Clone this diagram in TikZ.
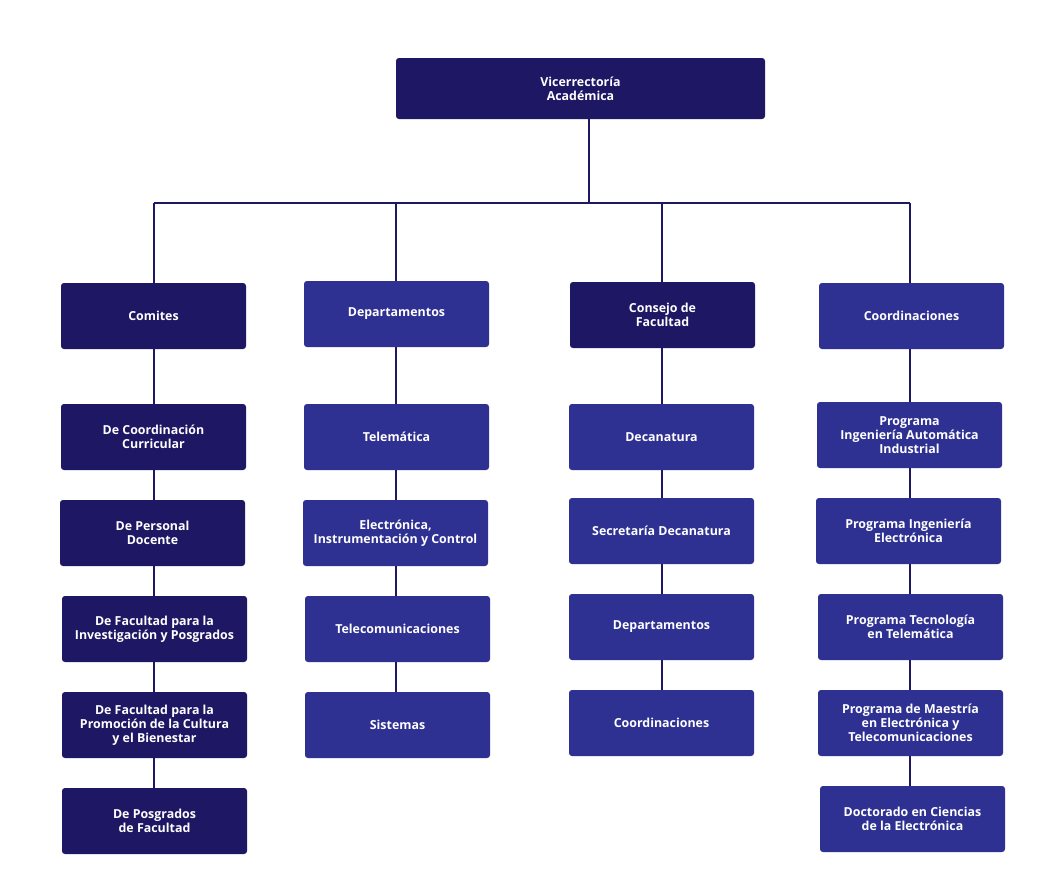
\documentclass[tikz,border=0pt]{standalone}
\usepackage{fontspec}
\setmainfont{Open Sans}
\usetikzlibrary{backgrounds}
\definecolor{darknavy}{HTML}{1E1763}
\definecolor{midnavy}{HTML}{2E3192}
\tikzset{
  orgbox/.style={rectangle, rounded corners=2.2pt, minimum width=138.75pt, minimum height=49.5pt,
    inner sep=0pt, text=white, align=center, font=\fontsize{9.3}{10.5}\selectfont\bfseries},
  darkbox/.style={orgbox, fill=darknavy},
  litebox/.style={orgbox, fill=midnavy},
  link/.style={draw=darknavy, line width=2.2pt}
}
\begin{document}
\begin{tikzpicture}[x=0.75pt,y=-0.75pt]
\useasboundingbox (0,0) rectangle (1060,889);
\node[darkbox, minimum width=276.75pt, minimum height=45.75pt] (vr) at (580.5,88.5) {Vicerrectoría\\Académica};
% column 1
\node[darkbox] (comites) at (153.5,316) {Comites};
\node[darkbox] (cc) at (153.5,437) {De Coordinación\\Curricular};
\node[darkbox] (pd) at (152.5,533) {De Personal\\Docente};
\node[darkbox] (fip) at (154.5,629) {De Facultad para la\\Investigación y Posgrados};
\node[darkbox] (fpc) at (154.5,725) {De Facultad para la\\Promoción de la Cultura\\y el Bienestar};
\node[darkbox] (pf) at (154.5,821) {De Posgrados\\de Facultad};
% column 2
\node[litebox] (dep) at (396.5,314) {Departamentos};
\node[litebox] (tel) at (396.5,437) {Telemática};
\node[litebox] (eic) at (395.5,533) {Electrónica,\\Instrumentación y Control};
\node[litebox] (telec) at (397.5,629) {Telecomunicaciones};
\node[litebox] (sis) at (397.5,725) {Sistemas};
% column 3
\node[darkbox] (cf) at (662.5,315) {Consejo de\\Facultad};
\node[litebox] (dec) at (661.5,437) {Decanatura};
\node[litebox] (sec) at (661.5,531) {Secretaría Decanatura};
\node[litebox] (dep2) at (661.5,627) {Departamentos};
\node[litebox] (coo2) at (661.5,723) {Coordinaciones};
% column 4
\node[litebox] (coo) at (911.5,316) {Coordinaciones};
\node[litebox] (pia) at (909.5,435) {Programa\\Ingeniería Automática\\Industrial};
\node[litebox] (pie) at (908.5,531) {Programa Ingeniería\\Electrónica};
\node[litebox] (ptt) at (910.5,627) {Programa Tecnología\\en Telemática};
\node[litebox] (pme) at (910.5,723) {Programa de Maestría\\en Electrónica y\\Telecomunicaciones};
\node[litebox] (doc) at (912.5,819) {Doctorado en Ciencias\\de la Electrónica};
% bus coordinates
\coordinate (top) at (589,203);
\coordinate (bus1) at (154,203);
\coordinate (bus2) at (396,203);
\coordinate (bus3) at (662,203);
\coordinate (bus4) at (910,203);
\begin{scope}[on background layer]
\draw[link] (vr.south -| top) -- (top);
\draw[link] (bus1) -- (bus4);
\draw[link] (bus1) -- (comites.north -| bus1);
\draw[link] (bus2) -- (dep.north -| bus2);
\draw[link] (bus3) -- (cf.north -| bus3);
\draw[link] (bus4) -- (coo.north -| bus4);
\foreach \a/\b in {comites/cc, cc/pd, pd/fip, fip/fpc, fpc/pf}
  \draw[link] (\a.south -| bus1) -- (\b.north -| bus1);
\foreach \a/\b in {dep/tel, tel/eic, eic/telec, telec/sis}
  \draw[link] (\a.south -| bus2) -- (\b.north -| bus2);
\foreach \a/\b in {cf/dec, dec/sec, sec/dep2, dep2/coo2}
  \draw[link] (\a.south -| bus3) -- (\b.north -| bus3);
\foreach \a/\b in {coo/pia, pia/pie, pie/ptt, ptt/pme, pme/doc}
  \draw[link] (\a.south -| bus4) -- (\b.north -| bus4);
\end{scope}
\end{tikzpicture}
\end{document}
